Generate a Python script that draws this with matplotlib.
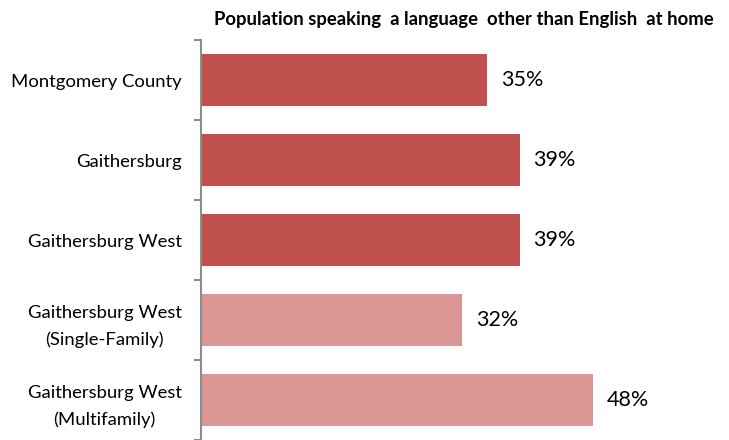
import matplotlib.pyplot as plt
import numpy as np

plt.rcParams['font.family'] = ['Lato', 'DejaVu Sans']

# --- Data ---
categories = [
    "Montgomery County",
    "Gaithersburg",
    "Gaithersburg West",
    "Gaithersburg West\n(Single-Family)",
    "Gaithersburg West\n(Multifamily)",
]
values = [35, 39, 39, 32, 48]
bar_colors = ["#C0504D", "#C0504D", "#C0504D", "#D99694", "#D99694"]
title = "Population speaking  a language  other than English  at home"

# --- Figure ---
fig = plt.figure(figsize=(7.29, 4.4), dpi=100)
ax = fig.add_axes([201 / 729, 0.0, 490 / 729, 400 / 440])

pos = np.arange(len(categories))
ax.barh(pos, values, height=0.66, color=bar_colors)
ax.set_ylim(len(categories) - 0.5, -0.5)
ax.set_xlim(0, 60)

# value labels
for y, v in zip(pos, values):
    ax.annotate(f"{v}%", xy=(v, y), xytext=(10, 0), textcoords="offset points",
                va="center", ha="left", fontsize=15.5, color="black")

# tick marks on category boundaries, names centred in each slot
ax.set_yticks(np.arange(len(categories) + 1) - 0.5)
ax.set_yticklabels([])
ax.set_yticks(pos, minor=True)
ax.set_yticklabels(categories, minor=True, fontsize=13.3, multialignment="center",
                   linespacing=1.75)
ax.tick_params(axis="y", which="major", length=5, width=1.5, color="#8C8C8C")
ax.tick_params(axis="y", which="minor", length=0, pad=14)

ax.set_xticks([])
for side in ["top", "right", "bottom"]:
    ax.spines[side].set_visible(False)
ax.spines["left"].set_color("#8C8C8C")
ax.spines["left"].set_linewidth(1.5)

fig.text(464 / 729, 1 - 19 / 440, title, ha="center", va="center",
         fontsize=13.3, fontweight="bold")

fig.savefig("out.png", dpi=100)
